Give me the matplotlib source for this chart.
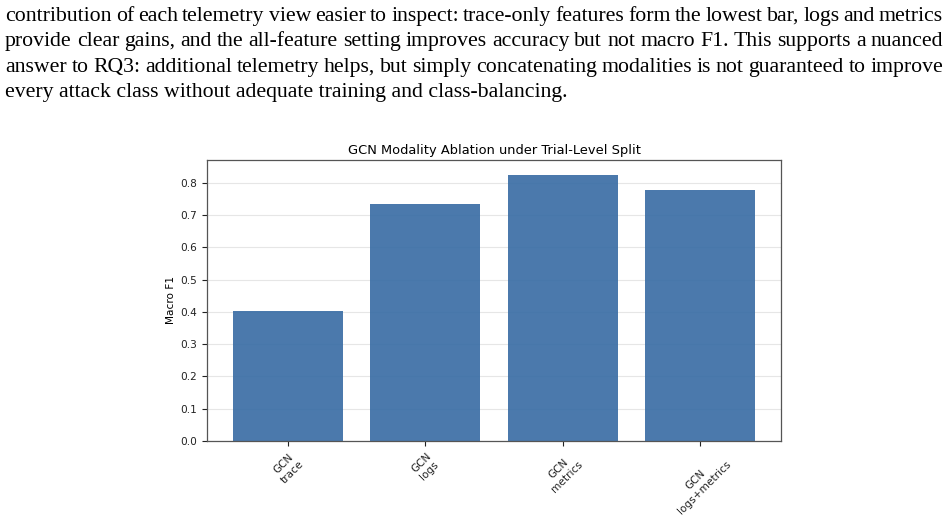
import matplotlib
matplotlib.use("Agg")
import matplotlib.pyplot as plt
import numpy as np

categories = ["GCN\ntrace", "GCN\nlogs", "GCN\nmetrics", "GCN\nlogs+metrics"]
macro_f1 = [0.403, 0.734, 0.825, 0.778]
yticks = [0.0, 0.1, 0.2, 0.3, 0.4, 0.5, 0.6, 0.7, 0.8]

paragraph_lines = [
    "contribution of each telemetry view easier to inspect: trace-only features form the lowest bar, logs and metrics",
    "provide clear gains, and the all-feature setting improves accuracy but not macro F1. This supports a nuanced",
    "answer to RQ3: additional telemetry helps, but simply concatenating modalities is not guaranteed to improve",
    "every attack class without adequate training and class-balancing.",
]

W, H = 948, 523
fig = plt.figure(figsize=(W / 100, H / 100), dpi=100)
renderer = fig.canvas.get_renderer()

serif = "Liberation Serif"

def measure(s, size):
    t = fig.text(0, 0, s, fontsize=size, family=serif)
    w = t.get_window_extent(renderer).width
    t.remove()
    return w

left_px, right_px = 5, 943
# font size so the densest justified line fits with slightly tight spacing
base = max(measure(l, 10) for l in paragraph_lines[:-1])
fs = 10 * ((right_px - left_px) * 1.02 / base)

baselines = [21, 46, 72, 97]
for i, line in enumerate(paragraph_lines):
    words = line.split(" ")
    y = 1 - baselines[i] / H
    if i == len(paragraph_lines) - 1:
        fig.text(left_px / W, y, line, fontsize=fs, family=serif, va="baseline", ha="left")
        continue
    widths = [measure(w_, fs) for w_ in words]
    gap = (right_px - left_px - sum(widths)) / (len(words) - 1)
    x = left_px
    for w_, wd in zip(words, widths):
        fig.text(x / W, y, w_, fontsize=fs, family=serif, va="baseline", ha="left")
        x += wd + gap

ax = fig.add_axes([207 / W, 1 - 441 / H, (781 - 207) / W, (441 - 160) / H])
x = np.arange(len(categories))
ax.bar(x, macro_f1, width=0.8, color="#3b6ea5", alpha=0.92, zorder=2)
ax.set_ylim(0, 0.871)
ax.set_yticks(yticks)
ax.set_yticklabels([f"{v:.1f}" for v in yticks], fontsize=7.6)
ax.set_xticks(x)
ax.set_xticklabels(categories, rotation=45, fontsize=7.6)
ax.set_ylabel("Macro F1", fontsize=7.6, labelpad=3)
ax.set_title("GCN Modality Ablation under Trial-Level Split", fontsize=9.4, pad=4)
ax.yaxis.grid(True, color="#e6e6e6", linewidth=0.8, zorder=1)
ax.set_axisbelow(True)
for s in ax.spines.values():
    s.set_edgecolor("#555555")
    s.set_linewidth(0.9)
ax.tick_params(colors="#222222", length=3.5, width=0.8)

fig.savefig("out.png", dpi=100)
